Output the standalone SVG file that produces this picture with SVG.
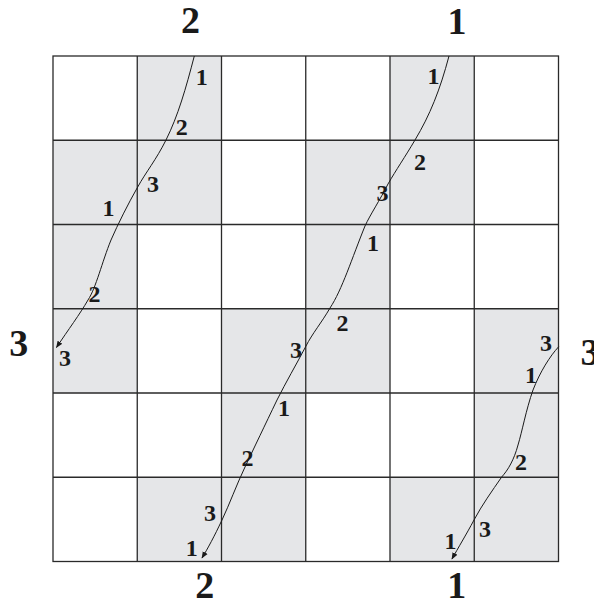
<svg xmlns="http://www.w3.org/2000/svg" width="594" height="603" viewBox="0 0 594 603">
<style>
.sh{fill:#e5e6e8}
.grid{stroke:#2a2a2a;stroke-width:1.3;fill:none}
.c{fill:none;stroke:#1a1a1a;stroke-width:1}
.s{font-family:"Liberation Serif","Times New Roman",serif;font-weight:bold;font-size:24px;fill:#1a1a1a;text-anchor:middle}
.b{font-family:"Liberation Serif","Times New Roman",serif;font-weight:bold;font-size:38px;fill:#1a1a1a;text-anchor:middle}
</style>
<defs>
<marker id="ah" viewBox="0 0 10 10" refX="9" refY="5" markerWidth="7" markerHeight="7" markerUnits="userSpaceOnUse" orient="auto">
<path d="M0,1 L10,5 L0,9 z" fill="#1a1a1a"/>
</marker>
</defs>
<rect x="0" y="0" width="594" height="603" fill="#fff"/>
<g id="board">
<g id="shaded">
<rect class="sh" x="137.25" y="56" width="84.25" height="84.25"/>
<rect class="sh" x="390" y="56" width="84.25" height="84.25"/>
<rect class="sh" x="53" y="140.25" width="84.25" height="84.25"/>
<rect class="sh" x="137.25" y="140.25" width="84.25" height="84.25"/>
<rect class="sh" x="305.75" y="140.25" width="84.25" height="84.25"/>
<rect class="sh" x="390" y="140.25" width="84.25" height="84.25"/>
<rect class="sh" x="53" y="224.5" width="84.25" height="84.25"/>
<rect class="sh" x="305.75" y="224.5" width="84.25" height="84.25"/>
<rect class="sh" x="53" y="308.75" width="84.25" height="84.25"/>
<rect class="sh" x="221.5" y="308.75" width="84.25" height="84.25"/>
<rect class="sh" x="305.75" y="308.75" width="84.25" height="84.25"/>
<rect class="sh" x="474.25" y="308.75" width="84.25" height="84.25"/>
<rect class="sh" x="221.5" y="393" width="84.25" height="84.25"/>
<rect class="sh" x="474.25" y="393" width="84.25" height="84.25"/>
<rect class="sh" x="137.25" y="477.25" width="84.25" height="84.25"/>
<rect class="sh" x="221.5" y="477.25" width="84.25" height="84.25"/>
<rect class="sh" x="390" y="477.25" width="84.25" height="84.25"/>
<rect class="sh" x="474.25" y="477.25" width="84.25" height="84.25"/>
</g>
<g id="gridlines" class="grid">
<rect x="53" y="56" width="505.5" height="505.5"/>
<path d="M137.25,56V561.5M221.5,56V561.5M305.75,56V561.5M390,56V561.5M474.25,56V561.5"/>
<path d="M53,140.25H558.5M53,224.5H558.5M53,308.75H558.5M53,393H558.5M53,477.25H558.5"/>
</g>
</g>
<g id="connectors">
<path class="c" marker-end="url(#ah)" d="M194.3,56 C186,88 178,116 166,140 C156,160 146,172 137.7,187 C128,204 118,224 111,240 C102,262 96,288 88,300 C80,314 68,330 56.5,347.5"/>
<path class="c" marker-end="url(#ah)" d="M449,56 C440,90 430,115 415,140 C405,157 396,170 388,184 C380,200 370,215 365,226 C352,258 342,290 330,308 C322,322 312,334 306,346 C296,365 286,382 277,400 C265,425 254,448 245,467 C236,486 230,503 222,520 C214,537 208,548 202,558"/>
<path class="c" marker-end="url(#ah)" d="M558.7,346.7 C550,356 540,372 533,390 C526,410 522,432 518,445 C514,460 508,470 501.7,477 C492,491 482,505 474,520 C466,535 458,548 452,559"/>
</g>
<g id="curve-labels">
<text class="s" x="201.7" y="85">1</text>
<text class="s" x="181.7" y="135">2</text>
<text class="s" x="153" y="192">3</text>
<text class="s" x="108.5" y="216">1</text>
<text class="s" x="94.5" y="302">2</text>
<text class="s" x="65" y="366">3</text>
<text class="s" x="433.5" y="84">1</text>
<text class="s" x="420" y="170">2</text>
<text class="s" x="382.5" y="201">3</text>
<text class="s" x="373" y="251">1</text>
<text class="s" x="342.5" y="331">2</text>
<text class="s" x="296" y="358">3</text>
<text class="s" x="284" y="416">1</text>
<text class="s" x="247.5" y="466">2</text>
<text class="s" x="210" y="521">3</text>
<text class="s" x="191.7" y="556">1</text>
<text class="s" x="546" y="351">3</text>
<text class="s" x="531" y="383">1</text>
<text class="s" x="521" y="470">2</text>
<text class="s" x="485" y="537">3</text>
<text class="s" x="450.5" y="549">1</text>
</g>
<g id="edge-labels">
<text class="b" x="190.5" y="33">2</text>
<text class="b" x="457" y="34">1</text>
<text class="b" x="18.7" y="356">3</text>
<text class="b" x="590" y="365">3</text>
<text class="b" x="204.7" y="598">2</text>
<text class="b" x="456.7" y="598">1</text>
</g>
</svg>
